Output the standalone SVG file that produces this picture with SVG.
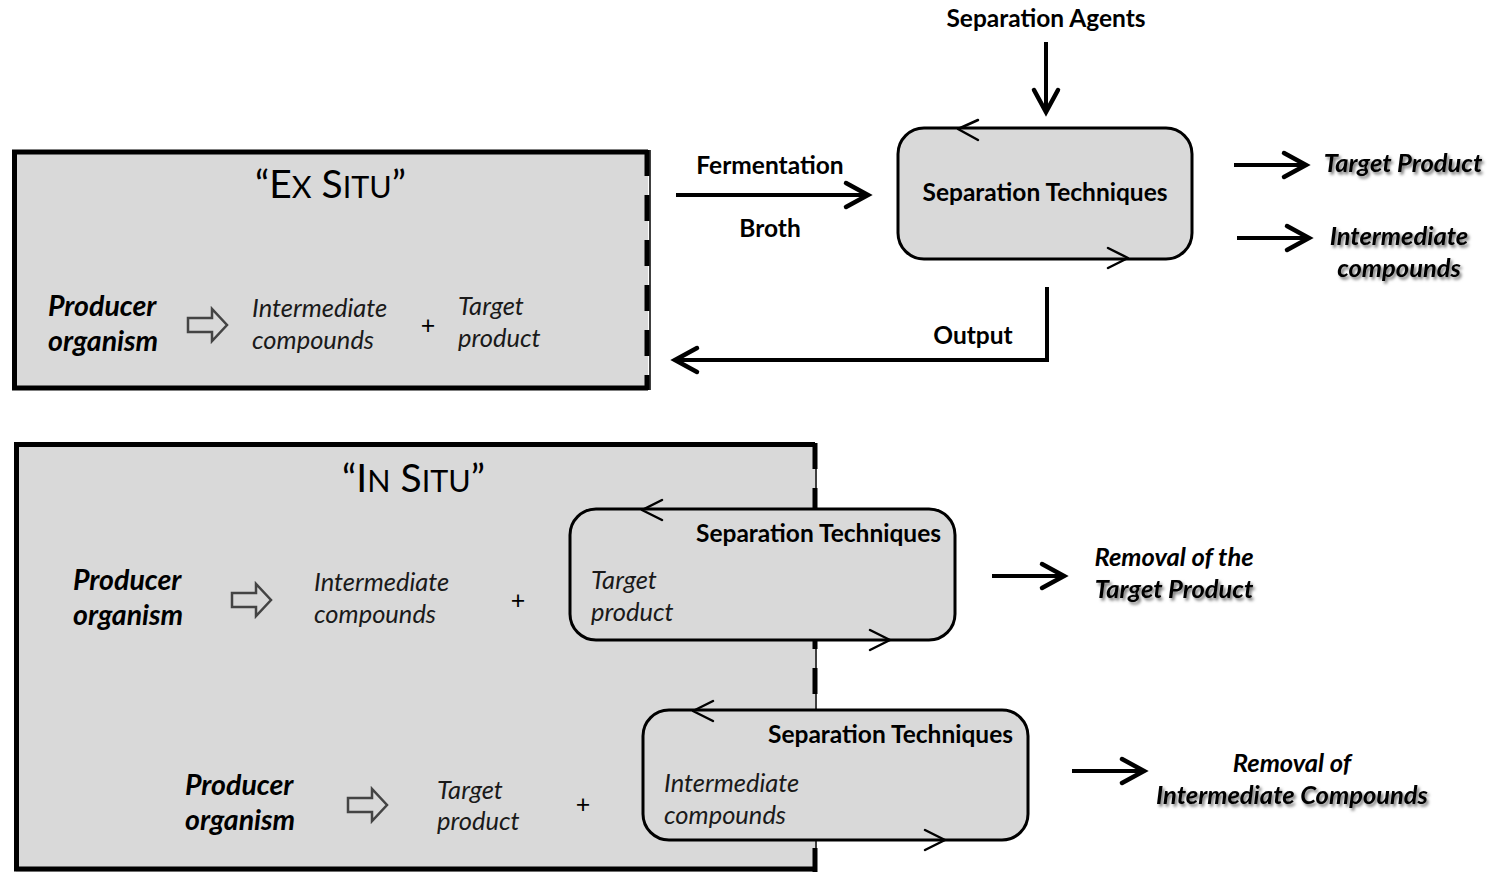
<svg xmlns="http://www.w3.org/2000/svg" width="1488" height="872" viewBox="0 0 1488 872">
<style>
text{font-family:Lato,"Liberation Sans",sans-serif;fill:#000}
.b{font-weight:bold;font-size:24.5px}
.bi{font-weight:bold;font-style:italic;font-size:28.5px}
.i{font-style:italic;font-size:25.5px;fill:#1a1a1a}
.sh{font-weight:bold;font-style:italic;font-size:25.5px;filter:url(#shadow)}
.ri{font-style:italic;font-weight:bold;font-size:25.5px}
.plus{font-size:25px}
.ttl{font-size:39px}
.sc{font-size:30.5px}
.box{fill:#d9d9d9;stroke:none}
.edge{fill:none;stroke:#000;stroke-width:5}
.thin{fill:none;stroke:#000;stroke-width:1.5}
.dash{fill:none;stroke:#000;stroke-width:5;stroke-dasharray:26 19}
.sep{fill:#d9d9d9;stroke:#000;stroke-width:3}
.chev{fill:none;stroke:#000;stroke-width:2.5;stroke-linecap:round;stroke-linejoin:round}
.conn{fill:none;stroke:#000;stroke-width:4;marker-end:url(#ah)}
.hollow{fill:none;stroke:#444;stroke-width:2.5;stroke-linejoin:miter}
</style>
<defs>
<marker id="ah" markerUnits="userSpaceOnUse" markerWidth="30" markerHeight="30" refX="0" refY="0" orient="auto" overflow="visible" viewBox="-30 -15 30 30">
<path d="M-22,-12 L0,0 L-22,12" fill="none" stroke="#000" stroke-width="4.5" stroke-linecap="round" stroke-linejoin="miter"/>
</marker>
<filter id="shadow" x="-10%" y="-30%" width="130%" height="180%">
<feDropShadow dx="2" dy="2.5" stdDeviation="1.6" flood-color="#000" flood-opacity="0.55"/>
</filter>
</defs>

<g id="ex-situ">
<rect class="box" x="14" y="152" width="634" height="236"/>
<path class="edge" d="M648,152 L14.5,152 L14.5,388 L648,388"/>
<line class="thin" x1="650" y1="150" x2="650" y2="390"/>
<line class="dash" x1="647" y1="150" x2="647" y2="390"/>
<text x="255" y="198" class="ttl">“E<tspan class="sc">X</tspan> S<tspan class="sc">ITU</tspan>”</text>
<text x="48" y="316" class="bi">Producer</text>
<text x="48" y="351" class="bi">organism</text>
<path class="hollow" d="M188,318 L212,318 L212,309 L227,325 L212,341 L212,332 L188,332 Z"/>
<text x="252" y="317" class="i">Intermediate</text>
<text x="252" y="349" class="i">compounds</text>
<text x="428" y="334" class="plus" text-anchor="middle">+</text>
<text x="458" y="315" class="i">Target</text>
<text x="458" y="347" class="i">product</text>
</g>

<g id="in-situ">
<rect class="box" x="16" y="444" width="799" height="428"/>
<path class="edge" d="M815,444.5 L16.5,444.5 L16.5,869 L815,869"/>
<line class="thin" x1="816" y1="443" x2="816" y2="872"/>
<line class="dash" x1="815" y1="443" x2="815" y2="872"/>
<text x="342" y="492" class="ttl">“I<tspan class="sc">N</tspan> S<tspan class="sc">ITU</tspan>”</text>
<text x="73" y="590" class="bi">Producer</text>
<text x="73" y="625" class="bi">organism</text>
<path class="hollow" d="M232,593 L256,593 L256,584 L271,600 L256,616 L256,607 L232,607 Z"/>
<text x="314" y="591" class="i">Intermediate</text>
<text x="314" y="623" class="i">compounds</text>
<text x="518" y="609" class="plus" text-anchor="middle">+</text>
<text x="185" y="795" class="bi">Producer</text>
<text x="185" y="830" class="bi">organism</text>
<path class="hollow" d="M348,798 L372,798 L372,789 L387,805 L372,821 L372,812 L348,812 Z"/>
<text x="437" y="799" class="i">Target</text>
<text x="437" y="830" class="i">product</text>
<text x="583" y="813" class="plus" text-anchor="middle">+</text>
</g>

<g id="sep-top">
<rect class="sep" x="898" y="128" width="294" height="131" rx="26"/>
<path class="chev" d="M978,120 L958,129 L978,140"/>
<path class="chev" d="M1108,248 L1128,258 L1108,268"/>
<text x="1045" y="201" class="b" text-anchor="middle">Separation Techniques</text>
</g>

<g id="sep-insitu-1">
<rect class="sep" x="570" y="509" width="385" height="131" rx="26"/>
<path class="chev" d="M662,500 L642,510 L662,520"/>
<path class="chev" d="M870,630 L890,640 L870,650"/>
<text x="941" y="542" class="b" text-anchor="end">Separation Techniques</text>
<text x="591" y="589" class="i">Target</text>
<text x="591" y="621" class="i">product</text>
</g>

<g id="sep-insitu-2">
<rect class="sep" x="643" y="710" width="385" height="130" rx="26"/>
<path class="chev" d="M713,701 L693,711 L713,721"/>
<path class="chev" d="M925,830 L945,840 L925,850"/>
<text x="1013" y="743" class="b" text-anchor="end">Separation Techniques</text>
<text x="664" y="792" class="i">Intermediate</text>
<text x="664" y="824" class="i">compounds</text>
</g>

<g id="labels">
<text x="1046" y="27" class="b" text-anchor="middle">Separation Agents</text>
<text x="770" y="174" class="b" text-anchor="middle">Fermentation</text>
<text x="770" y="237" class="b" text-anchor="middle">Broth</text>
<text x="973" y="344" class="b" text-anchor="middle">Output</text>
<text x="1403" y="172" class="sh" text-anchor="middle">Target Product</text>
<text x="1399" y="245" class="sh" text-anchor="middle">Intermediate</text>
<text x="1399" y="277" class="sh" text-anchor="middle">compounds</text>
<text x="1174" y="566" class="ri" text-anchor="middle">Removal of the</text>
<text x="1174" y="598" class="sh" text-anchor="middle">Target Product</text>
<text x="1292" y="772" class="ri" text-anchor="middle">Removal of</text>
<text x="1292" y="804" class="sh" text-anchor="middle">Intermediate Compounds</text>
</g>

<g id="connectors">
<path class="conn" d="M1046,42 L1046,112"/>
<path class="conn" d="M676,195 L868,195"/>
<path class="conn" d="M1047,287 L1047,360 L675,360"/>
<path class="conn" d="M1234,165 L1306,165"/>
<path class="conn" d="M1237,238 L1309,238"/>
<path class="conn" d="M992,576 L1064,576"/>
<path class="conn" d="M1072,771 L1144,771"/>
</g>
</svg>
